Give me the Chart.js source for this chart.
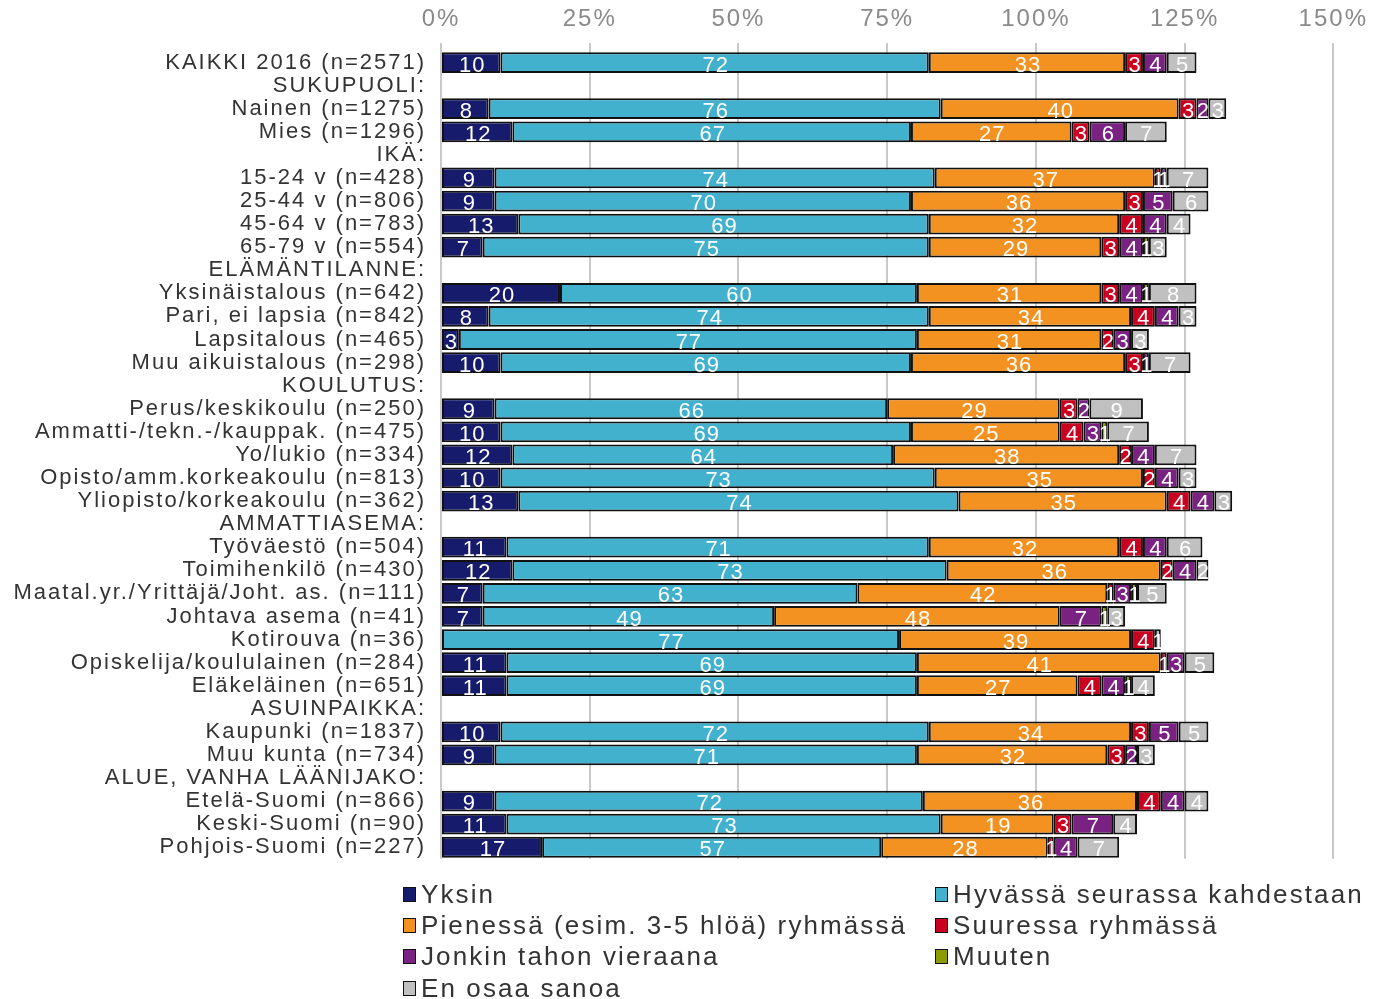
<!DOCTYPE html>
<html><head><meta charset="utf-8">
<script src="https://cdn.jsdelivr.net/npm/chart.js@4/dist/chart.umd.min.js"></script>
<style>
html,body{margin:0;padding:0;background:#fff;}
body{width:1377px;height:999px;overflow:hidden;position:relative;font-family:"Liberation Sans Narrow","Liberation Sans",sans-serif;}
#wrap{position:absolute;left:0;top:0;width:1377px;height:887px;}
#legend{position:absolute;left:0;top:0;width:1377px;height:999px;pointer-events:none;}
.item{position:absolute;display:flex;align-items:center;font-size:26px;color:#333;letter-spacing:2.1px;white-space:nowrap;height:30px;}
.sw{width:13px;height:15px;border:1.5px solid #111;margin-right:5px;box-sizing:border-box;}
</style></head>
<body>
<div id="wrap"><canvas id="c" width="1377" height="887"></canvas></div>
<div id="legend"></div>
<script>
const categories = [
 "KAIKKI 2016 (n=2571)","SUKUPUOLI:","Nainen (n=1275)","Mies (n=1296)","IKÄ:",
 "15-24 v (n=428)","25-44 v (n=806)","45-64 v (n=783)","65-79 v (n=554)","ELÄMÄNTILANNE:",
 "Yksinäistalous (n=642)","Pari, ei lapsia (n=842)","Lapsitalous (n=465)","Muu aikuistalous (n=298)","KOULUTUS:",
 "Perus/keskikoulu (n=250)","Ammatti-/tekn.-/kauppak. (n=475)","Yo/lukio (n=334)","Opisto/amm.korkeakoulu (n=813)","Yliopisto/korkeakoulu (n=362)",
 "AMMATTIASEMA:","Työväestö (n=504)","Toimihenkilö (n=430)","Maatal.yr./Yrittäjä/Joht. as. (n=111)","Johtava asema (n=41)",
 "Kotirouva (n=36)","Opiskelija/koululainen (n=284)","Eläkeläinen (n=651)","ASUINPAIKKA:","Kaupunki (n=1837)",
 "Muu kunta (n=734)","ALUE, VANHA LÄÄNIJAKO:","Etelä-Suomi (n=866)","Keski-Suomi (n=90)","Pohjois-Suomi (n=227)"
];
const seriesNames = ["Yksin","Hyvässä seurassa kahdestaan","Pienessä (esim. 3-5 hlöä) ryhmässä","Suuressa ryhmässä","Jonkin tahon vieraana","Muuten","En osaa sanoa"];
const seriesColors = ["#161b6b","#41b1ce","#f39220","#c9001f","#7a2282","#8d9c00","#c0c0c0"];
const N = null;
const yksin   = [10,N,8,12,N,9,9,13,7,N,20,8,3,10,N,9,10,12,10,13,N,11,12,7,7,0,11,11,N,10,9,N,9,11,17];
const hyvassa = [72,N,76,67,N,74,70,69,75,N,60,74,77,69,N,66,69,64,73,74,N,71,73,63,49,77,69,69,N,72,71,N,72,73,57];
const pienessa= [33,N,40,27,N,37,36,32,29,N,31,34,31,36,N,29,25,38,35,35,N,32,36,42,48,39,41,27,N,34,32,N,36,19,28];
const suuressa= [3,N,3,3,N,1,3,4,3,N,3,4,2,3,N,3,4,2,2,4,N,4,2,1,0,4,1,4,N,3,3,N,4,3,1];
const jonkin  = [4,N,2,6,N,1,5,4,4,N,4,4,3,1,N,2,3,4,4,4,N,4,4,3,7,0,3,4,N,5,2,N,4,7,4];
const muuten  = [0,N,0,0,N,0,0,0,1,N,1,0,0,0,N,0,1,0,0,0,N,0,0,1,1,0,0,1,N,0,0,N,0,0,0];
const eos     = [5,N,3,7,N,7,6,4,3,N,8,3,3,7,N,9,7,7,3,3,N,6,2,5,3,1,5,4,N,5,3,N,4,4,7];
const xTicks = [0,25,50,75,100,125,150];
const seriesData = [yksin,hyvassa,pienessa,suuressa,jonkin,muuten,eos];

const FONT = '"Liberation Sans Narrow","Liberation Sans",sans-serif';

const spacingPlugin = {
  id:'spacing',
  beforeLayout(chart){ chart.ctx.letterSpacing = '2px'; },
  beforeDraw(chart){ chart.ctx.letterSpacing = '2px'; }
};

const labelPlugin = {
  id:'barLabels',
  afterDatasetsDraw(chart){
    const ctx = chart.ctx;
    ctx.save();
    ctx.letterSpacing = '1px';
    ctx.font = '22px ' + FONT;
    ctx.fillStyle = '#ffffff';
    ctx.textAlign = 'center';
    ctx.textBaseline = 'middle';
    chart.data.datasets.forEach((ds, di) => {
      const meta = chart.getDatasetMeta(di);
      meta.data.forEach((bar, i) => {
        const v = ds.data[i];
        if (v == null || v < 1) return;
        const x = (bar.x + bar.base) / 2;
        ctx.fillText(String(v), x + 1, bar.y + 3);
      });
    });
    ctx.restore();
  }
};

new Chart(document.getElementById('c'), {
  type:'bar',
  data:{
    labels:categories,
    datasets: seriesData.map((d,i)=>({
      label:seriesNames[i], data:d, backgroundColor:seriesColors[i],
      borderColor:'#111111', borderWidth:2, borderSkipped:false,
      barPercentage:0.9, categoryPercentage:1.0
    }))
  },
  options:{
    indexAxis:'y', responsive:false, animation:false,
    layout:{padding:{top:0,left:0,right:40,bottom:12}},
    plugins:{legend:{display:false},tooltip:{enabled:false}},
    scales:{
      x:{
        position:'top', stacked:true, min:0, max:150,
        afterBuildTicks(s){ s.ticks = xTicks.map(v=>({value:v})); },
        afterFit(s){ s.height = 51; },
        ticks:{ callback:v=>v+'%', color:'#8a8a8a', font:{family:FONT,size:24}, padding:9, maxRotation:0 },
        grid:{ color:'#c9c9c9', lineWidth:2, drawTicks:true, tickLength:8 },
        border:{display:false}
      },
      y:{
        stacked:true,
        afterFit(s){ s.width = 441; },
        ticks:{ color:'#333333', font:{family:FONT,size:22}, padding:15, autoSkip:false },
        grid:{ display:false, drawTicks:false },
        border:{display:false}
      }
    }
  },
  plugins:[spacingPlugin, labelPlugin]
});

// legend
const leg = document.getElementById('legend');
const pos = [[403,894],[935,894],[403,925],[935,925],[403,956],[935,956],[403,988]];
seriesNames.forEach((n,i)=>{
  const d = document.createElement('div');
  d.className='item';
  d.style.left = pos[i][0]+'px';
  d.style.top = (pos[i][1]-15)+'px';
  const s = document.createElement('span'); s.className='sw'; s.style.background=seriesColors[i];
  const t = document.createElement('span'); t.textContent = n;
  d.appendChild(s); d.appendChild(t); leg.appendChild(d);
});
</script>
</body></html>
